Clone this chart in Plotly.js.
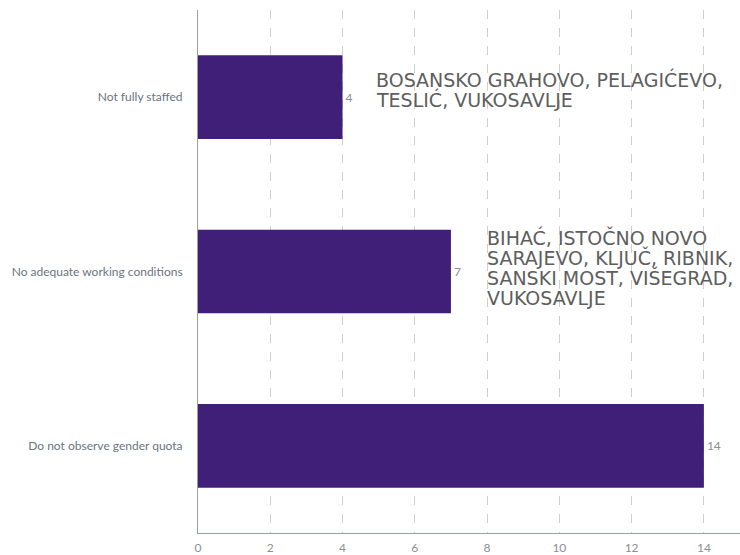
<!DOCTYPE html>
<html>
<head>
<meta charset="utf-8">
<script src="https://cdn.plot.ly/plotly-3.0.1.min.js"></script>
<style>html,body{margin:0;padding:0;background:#fff;}#chart{width:740px;height:555px;}</style>
</head>
<body>
<div id="chart"></div>
<script>
const categories = ["Do not observe gender quota", "No adequate working conditions", "Not fully staffed"];
const values = [14, 7, 4];
const noteCategories = ["Not fully staffed", "No adequate working conditions"];
const noteLines = [
  ["BOSANSKO GRAHOVO, PELAGIĆEVO,", "TESLIĆ, VUKOSAVLJE"],
  ["BIHAĆ, ISTOČNO NOVO", "SARAJEVO, KLJUČ, RIBNIK,", "SANSKI MOST, VIŠEGRAD,", "VUKOSAVLJE"]
];
const noteX = [4.88, 7.95];
const xTicks = [0, 2, 4, 6, 8, 10, 12, 14];

const trace = {
  type: "bar",
  orientation: "h",
  y: categories,
  x: values,
  width: 0.48,
  marker: {color: "#3f1f78"},
  text: values.map(String),
  textposition: "outside",
  textfont: {family: "Lato, sans-serif", size: 12, color: "#8a8f96"},
  cliponaxis: false,
  hoverinfo: "none"
};

const annotations = [];
const lineGap = 20;
const centerShift = [8, 4];
noteCategories.forEach((c, i) => {
  const n = noteLines[i].length;
  noteLines[i].forEach((line, j) => {
    annotations.push({
      x: noteX[i], y: c, xref: "x", yref: "y",
      xanchor: "left", yanchor: "middle", align: "left",
      yshift: centerShift[i] + ((n - 1) / 2 - j) * lineGap,
      showarrow: false,
      text: line,
      font: {family: "'DejaVu Sans', sans-serif", size: 19, color: "#5e5e5e"}
    });
  });
});

const layout = {
  width: 740, height: 555,
  margin: {l: 198, r: 0, t: 10, b: 22},
  paper_bgcolor: "#fff", plot_bgcolor: "#fff",
  showlegend: false,
  xaxis: {
    range: [0, 15],
    tickvals: xTicks,
    showgrid: true, gridcolor: "#cfcfcf", griddash: "dash", gridwidth: 1,
    zeroline: false,
    showline: true, linecolor: "#9a9ea6", linewidth: 1,
    ticks: "", ticklabelstandoff: 4,
    tickfont: {family: "Lato, sans-serif", size: 12, color: "#8a8f96"}
  },
  yaxis: {
    range: [-0.5, 2.5],
    showgrid: false, zeroline: false,
    showline: true, linecolor: "#9a9ea6", linewidth: 1,
    ticks: "", ticklabelstandoff: 12,
    tickfont: {family: "Lato, sans-serif", size: 12, color: "#6b7480"}
  },
  annotations: annotations
};

Plotly.newPlot("chart", [trace], layout, {displayModeBar: false, staticPlot: true});
</script>
</body>
</html>
